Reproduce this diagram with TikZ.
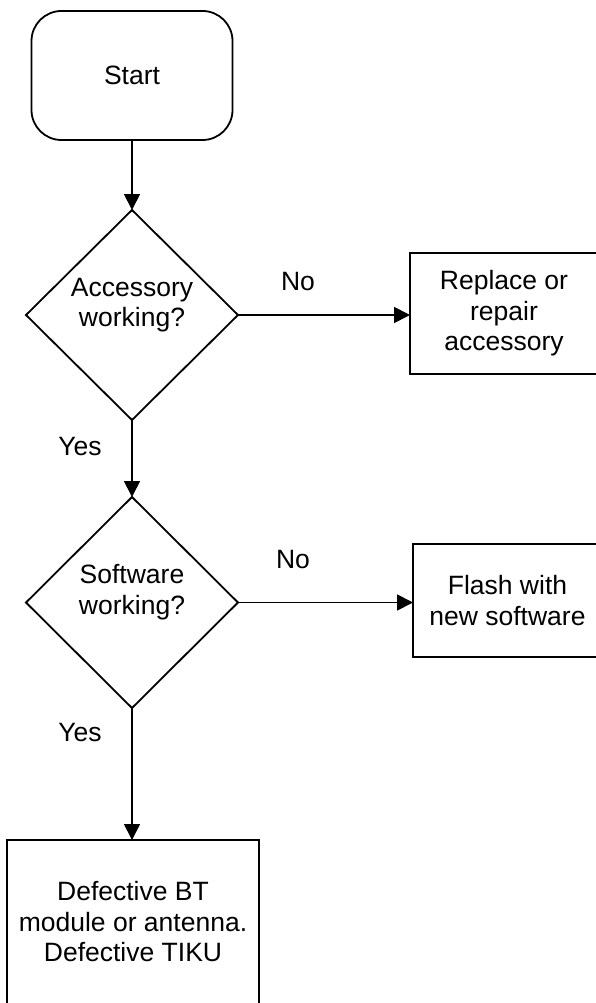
\documentclass[tikz,border=0pt]{standalone}
\usepackage{fontspec}
\setmainfont{Liberation Sans}
\usetikzlibrary{shapes.geometric,arrows.meta}
\begin{document}
\begin{tikzpicture}[x=1pt,y=-1pt,
  every node/.style={font=\fontsize{26.5}{30.5}\selectfont, align=center, inner sep=0pt, outer sep=0pt},
  shapeline/.style={draw=black, line width=1.8pt},
  terminal/.style={shapeline, rounded corners=30pt, rectangle},
  procbox/.style={shapeline, rectangle},
  decision/.style={shapeline, diamond},
  flow/.style={line width=1.8pt, -{Triangle[length=16pt,width=16pt]}},
  caption/.style={}
]
\clip (0,0) rectangle (596,1003);

% start terminal
\node[terminal, minimum width=201pt, minimum height=129pt] (start) at (132,75.5) {Start};

% decisions
\node[decision, minimum width=212pt, minimum height=210pt] (d1) at (132,315) {};
\node[caption] (d1t) at (132,305) {Accessory\\working?};
\node[decision, minimum width=212pt, minimum height=211pt] (d2) at (132,602.5) {};
\node[caption] (d2t) at (132,592) {Software\\working?};

% action boxes
\node[procbox, minimum width=188pt, minimum height=121pt] (b1) at (504,313.5) {Replace or\\repair\\accessory};
\node[procbox, minimum width=189pt, minimum height=113pt] (b2) at (507.5,600.5) {Flash with\\new software};
\node[procbox, minimum width=252pt, minimum height=164pt] (b3) at (133,922) {Defective BT\\module or antenna.\\Defective TIKU};

% connectors, kept straight
\draw[flow] (start.south) -- (d1.north);
\draw[flow] (d1.east) -- (d1.east -| b1.west);
\draw[flow] (d1.south) -- (d2.north);
\draw[flow] (d2.east) -- (d2.east -| b2.west);
\draw[flow] (d2.south) -- (d2.south |- b3.north);

% branch labels
\node[caption] (no1) at (298,282) {No};
\node[caption] (no2) at (293,560) {No};
\node[caption] (yes1) at (80,447) {Yes};
\node[caption] (yes2) at (80,733) {Yes};
\end{tikzpicture}
\end{document}
